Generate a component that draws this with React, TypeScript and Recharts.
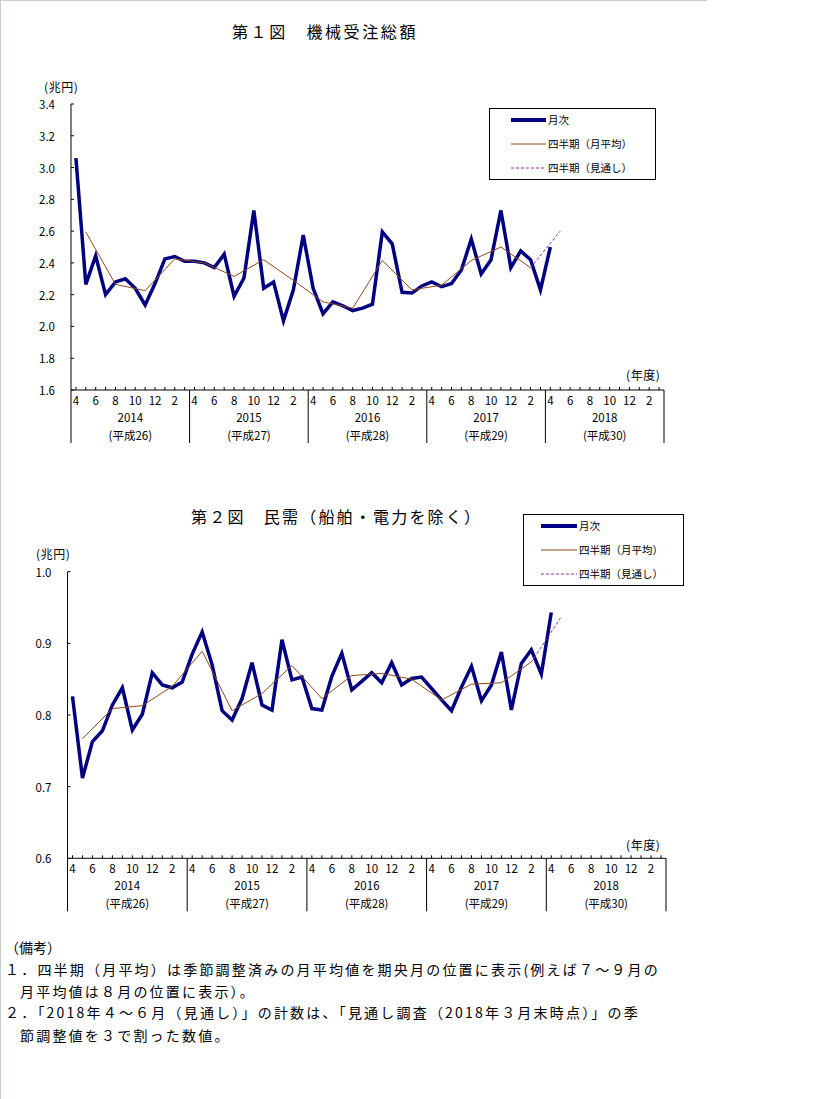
import React from "react";
import { LineChart, Line, XAxis, YAxis } from "recharts";

// ---- categories ----
const fiscalYears = ["2014", "2015", "2016", "2017", "2018"];
const heiseiYears = ["(平成26)", "(平成27)", "(平成28)", "(平成29)", "(平成30)"];
const monthsOfFY = [4, 5, 6, 7, 8, 9, 10, 11, 12, 1, 2, 3];
const labeledMonths = [4, 6, 8, 10, 12, 2];

// ---- 第１図 機械受注総額 (兆円) : monthly from 2014/4 ----
const totalMonthly = [
  3.06, 2.265, 2.445, 2.2, 2.28, 2.3, 2.24, 2.135, 2.27, 2.425, 2.44, 2.41,
  2.41, 2.4, 2.37, 2.455, 2.19, 2.305, 2.73, 2.24, 2.28, 2.035, 2.23, 2.575,
  2.24, 2.08, 2.155, 2.13, 2.1, 2.115, 2.14, 2.595, 2.52, 2.215, 2.21, 2.255,
  2.28, 2.25, 2.27, 2.355, 2.55, 2.33, 2.42, 2.73, 2.37, 2.475, 2.42, 2.23,
  2.5,
];
// quarterly averages at the mid-month (May, Aug, Nov, Feb) from 2014/5
const totalQuarterly = [
  2.595, 2.265, 2.225, 2.425, 2.4, 2.315, 2.42, 2.29, 2.155, 2.115, 2.415, 2.23,
  2.26, 2.415, 2.5, 2.37,
];
// forecast segment: 2018/2 (last quarter actual) -> 2018/5 (forecast)
const totalForecast = [2.37, 2.6];

// ---- 第２図 民需（船舶・電力を除く） (兆円) ----
const privateMonthly = [
  0.826, 0.712, 0.763, 0.778, 0.814, 0.838, 0.779, 0.801, 0.859, 0.842, 0.838, 0.846,
  0.885, 0.916, 0.87, 0.806, 0.793, 0.823, 0.873, 0.814, 0.807, 0.905, 0.849, 0.853,
  0.809, 0.807, 0.854, 0.886, 0.835, 0.847, 0.859, 0.845, 0.873, 0.842, 0.851, 0.853,
  0.837, 0.821, 0.806, 0.839, 0.868, 0.82, 0.842, 0.888, 0.807, 0.872, 0.891, 0.857,
  0.943,
];
const privateQuarterly = [
  0.767, 0.809, 0.813, 0.84, 0.889, 0.806, 0.83, 0.869, 0.823, 0.855, 0.858, 0.85,
  0.821, 0.843, 0.845, 0.874,
];
const privateForecast = [0.874, 0.937];

// ---- tick values ----
const totalTicks = [1.6, 1.8, 2.0, 2.2, 2.4, 2.6, 2.8, 3.0, 3.2, 3.4];
const privateTicks = [0.6, 0.7, 0.8, 0.9, 1.0];

const FONT = "'Noto Sans CJK JP', 'Noto Sans CJK SC', sans-serif";
const NAVY = "#000080";
const BROWN = "#8f4a1c";
const PURPLE = "#9a2aa6";
const TICK_FS = 11.5;

function buildRows(monthly: number[], quarterly: number[], forecast: number[]) {
  const rows: any[] = [];
  for (let y = 0; y < fiscalYears.length; y++) {
    for (let m = 0; m < monthsOfFY.length; m++) {
      const i = y * 12 + m;
      const qk = (i - 1) / 3;
      const isMid = m % 3 === 1;
      let f: number | null = null;
      if (isMid && qk === quarterly.length - 1) f = forecast[0];
      if (isMid && qk === quarterly.length) f = forecast[1];
      rows.push({
        i,
        month: monthsOfFY[m],
        monthly: i < monthly.length ? monthly[i] : null,
        quarterly: isMid && qk < quarterly.length ? quarterly[qk] : null,
        forecast: f,
      });
    }
  }
  return rows;
}

const totalRows = buildRows(totalMonthly, totalQuarterly, totalForecast);
const privateRows = buildRows(privateMonthly, privateQuarterly, privateForecast);

const N = fiscalYears.length * 12;
const xTicks: number[] = [];
for (let i = 0; i < N; i++) xTicks.push(i);
for (let y = 0; y <= fiscalYears.length; y++) xTicks.push(y * 12 - 0.5);
for (let y = 0; y < fiscalYears.length; y++) xTicks.push(y * 12 + 5.5);

const YTick = (props: any) => {
  const { x, y, payload } = props;
  return (
    <g>
      <line x1={x} x2={x + 3} y1={y} y2={y} stroke="#000" strokeWidth={1} />
      <text x={x - 16} y={y} textAnchor="end" dominantBaseline="central" fontSize={TICK_FS} fontFamily={FONT} fill="#000">
        {Number(payload.value).toFixed(1)}
      </text>
    </g>
  );
};

const XTick = (props: any) => {
  const { x, y, payload } = props;
  const v = Number(payload.value);
  if (Number.isInteger(v)) {
    const month = monthsOfFY[((v % 12) + 12) % 12];
    return (
      <g>
        <line x1={x} x2={x} y1={y - 3} y2={y} stroke="#000" strokeWidth={1} />
        {labeledMonths.includes(month) ? (
          <text x={x} y={y + 9.5} textAnchor="middle" dominantBaseline="central" fontSize={TICK_FS} fontFamily={FONT} fill="#000">
            {month}
          </text>
        ) : null}
      </g>
    );
  }
  if ((v + 0.5) % 12 === 0) {
    return <line x1={x} x2={x} y1={y} y2={y + 53} stroke="#000" strokeWidth={1} />;
  }
  const yi = Math.round((v - 5.5) / 12);
  return (
    <g>
      <text x={x} y={y + 26.7} textAnchor="middle" dominantBaseline="central" fontSize={TICK_FS} fontFamily={FONT} fill="#000">
        {fiscalYears[yi]}
      </text>
      <text x={x} y={y + 45} textAnchor="middle" dominantBaseline="central" fontSize={TICK_FS} fontFamily={FONT} fill="#000">
        {heiseiYears[yi]}
      </text>
    </g>
  );
};

const Txt = ({ x, y, size, children, spacing = 0 }: any) => (
  <div
    style={{
      position: "absolute",
      left: x,
      top: y - size / 2,
      fontSize: size,
      lineHeight: `${size}px`,
      letterSpacing: spacing,
      whiteSpace: "nowrap",
      fontFamily: FONT,
      color: "#000",
    }}
  >
    {children}
  </div>
);

const LegendBox = ({ left, top, width, lineX1, lineX2, textX }: any) => {
  const rows = [
    { label: "月次", stroke: NAVY, w: 4, dash: undefined },
    { label: "四半期（月平均）", stroke: BROWN, w: 1, dash: undefined },
    { label: "四半期（見通し）", stroke: PURPLE, w: 1, dash: "3 2" },
  ];
  const ys = [12, 36, 60];
  return (
    <div
      style={{
        position: "absolute",
        left,
        top,
        width,
        height: 72,
        border: "1px solid #000",
        boxSizing: "border-box",
        background: "#fff",
      }}
    >
      <svg width={width} height={72} style={{ position: "absolute", left: -1, top: -1 }}>
        {rows.map((r, k) => (
          <line key={k} x1={lineX1} x2={lineX2} y1={ys[k]} y2={ys[k]} stroke={r.stroke} strokeWidth={r.w} strokeDasharray={r.dash} />
        ))}
      </svg>
      {rows.map((r, k) => (
        <div
          key={k}
          style={{
            position: "absolute",
            left: textX - 1,
            top: ys[k] - 7,
            fontSize: 10.5,
            lineHeight: "12px",
            whiteSpace: "nowrap",
            fontFamily: FONT,
          }}
        >
          {r.label}
        </div>
      ))}
    </div>
  );
};

const Chart = ({ rows, domain, ticks, margin, height }: any) => (
  <LineChart width={819} height={height} data={rows} margin={margin}>
    <XAxis
      dataKey="i"
      type="number"
      domain={[-0.5, N - 0.5]}
      ticks={xTicks}
      interval={0}
      height={1}
      tickSize={0}
      tickMargin={0}
      tickLine={false}
      axisLine={{ stroke: "#000", strokeWidth: 1 }}
      tick={<XTick />}
      allowDataOverflow
    />
    <YAxis
      type="number"
      domain={domain}
      ticks={ticks}
      interval={0}
      width={1}
      tickSize={0}
      tickMargin={0}
      tickLine={false}
      axisLine={{ stroke: "#000", strokeWidth: 1 }}
      tick={<YTick />}
      allowDataOverflow
    />
    <Line dataKey="monthly" type="linear" stroke={NAVY} strokeWidth={3.5} dot={false} isAnimationActive={false} />
    <Line dataKey="quarterly" type="linear" stroke={BROWN} strokeWidth={1} dot={false} connectNulls isAnimationActive={false} />
    <Line dataKey="forecast" type="linear" stroke={PURPLE} strokeWidth={1} strokeDasharray="3 2" dot={false} connectNulls isAnimationActive={false} />
  </LineChart>
);

export default function App() {
  return (
    <div style={{ position: "absolute", left: 0, top: 0, width: 819, height: 1099, background: "#fff", fontFamily: FONT, overflow: "hidden" }}>
      <div style={{ position: "absolute", left: 0, top: 0, width: 707, height: 1, background: "#c6d0c6" }} />
      <div style={{ position: "absolute", left: 0, top: 0, width: 1, height: 1099, background: "#c6d0c6" }} />

      {/* Chart 1 */}
      <div style={{ position: "absolute", left: 0, top: 0 }}>
        <Chart rows={totalRows} domain={[1.6, 3.4]} ticks={totalTicks} height={460} margin={{ top: 104, right: 155, bottom: 69, left: 70 }} />
      </div>
      <Txt x={232} y={31} size={16} spacing={2.6}>第１図　機械受注総額</Txt>
      <Txt x={44} y={87} size={12} spacing={0.6}>(兆円)</Txt>
      <Txt x={626} y={375} size={12} spacing={0.6}>(年度)</Txt>
      <LegendBox left={489} top={108} width={167} lineX1={22} lineX2={57} textX={59} />

      {/* Chart 2 */}
      <div style={{ position: "absolute", left: 0, top: 460 }}>
        <Chart rows={privateRows} domain={[0.6, 1.0]} ticks={privateTicks} height={460} margin={{ top: 111.7, right: 153, bottom: 60.7, left: 66.5 }} />
      </div>
      <Txt x={191} y={516} size={16} spacing={2.2}>第２図　民需（船舶・電力を除く）</Txt>
      <Txt x={36} y={554} size={12} spacing={0.6}>(兆円)</Txt>
      <Txt x={626} y={845} size={12} spacing={0.6}>(年度)</Txt>
      <LegendBox left={523} top={514} width={161} lineX1={18} lineX2={54} textX={56} />

      {/* Notes */}
      <Txt x={5} y={947} size={14} spacing={0}>（備考）</Txt>
      <Txt x={5} y={969} size={14} spacing={2.2}>１．四半期（月平均）は季節調整済みの月平均値を期央月の位置に表示(例えば７～９月の</Txt>
      <Txt x={20} y={991} size={14} spacing={2.2}>月平均値は８月の位置に表示）。</Txt>
      <Txt x={5} y={1012} size={14} spacing={2.2}>２．「2018年４～６月（見通し）」の計数は、「見通し調査（2018年３月末時点）」の季</Txt>
      <Txt x={20} y={1035} size={14} spacing={2.2}>節調整値を３で割った数値。</Txt>
    </div>
  );
}
